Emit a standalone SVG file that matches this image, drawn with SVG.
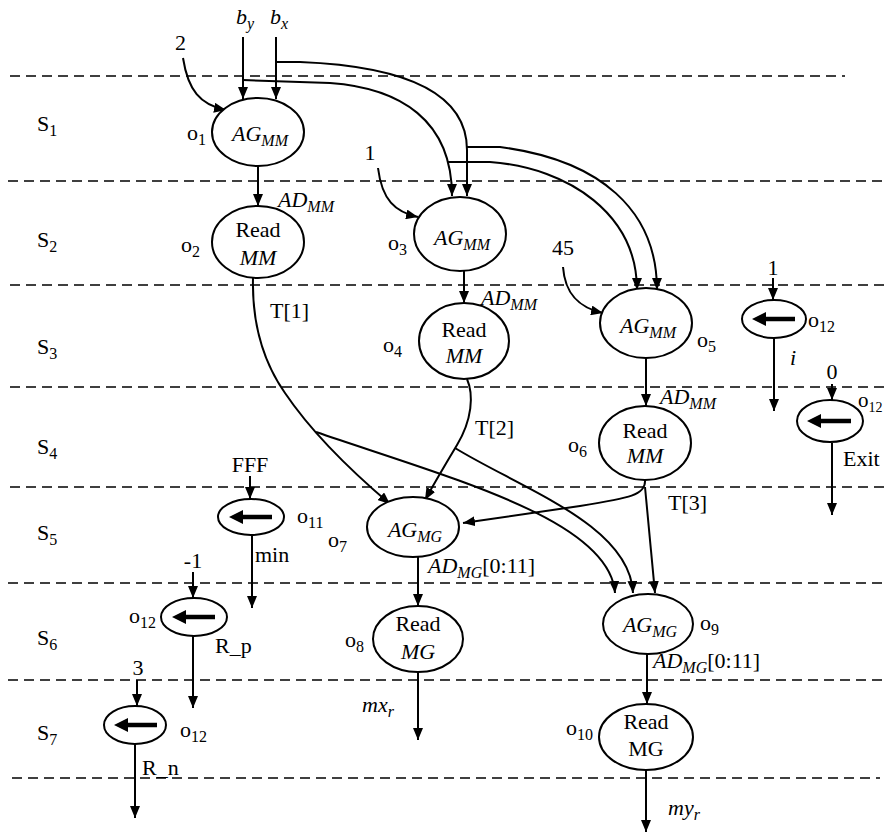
<svg xmlns="http://www.w3.org/2000/svg" width="885" height="838" viewBox="0 0 885 838">
<defs>
<marker id="ah" markerUnits="userSpaceOnUse" markerWidth="12" markerHeight="10" refX="12" refY="5" orient="auto">
<path d="M0,0 L12,5 L0,10 z" fill="#000"/>
</marker>
<style>
text{font-family:"Liberation Serif","Times New Roman",serif;font-size:22px;fill:#000}
.i{font-style:italic}
.s{font-size:16px}
.dash{stroke:#000;stroke-width:1.6;stroke-dasharray:10 6;fill:none}
.e{fill:#fff;stroke:#000;stroke-width:2}
.c{fill:none;stroke:#000;stroke-width:2}
.a{marker-end:url(#ah)}
.ta{stroke:#000;stroke-width:4.5;fill:none}
.mid{text-anchor:middle}
</style>
</defs>
<rect width="885" height="838" fill="#fff"/>
<g id="stages">
<line class="dash" x1="10" y1="76" x2="845" y2="76"/>
<line class="dash" x1="8" y1="181" x2="885" y2="181"/>
<line class="dash" x1="10" y1="285" x2="885" y2="285"/>
<line class="dash" x1="10" y1="387" x2="885" y2="387"/>
<line class="dash" x1="10" y1="487" x2="885" y2="487"/>
<line class="dash" x1="8" y1="583" x2="885" y2="583"/>
<line class="dash" x1="8" y1="680" x2="885" y2="680"/>
<line class="dash" x1="12" y1="778" x2="880" y2="778"/>
<text x="37" y="131">S<tspan class="s" dy="5">1</tspan></text>
<text x="37" y="247">S<tspan class="s" dy="5">2</tspan></text>
<text x="37" y="354">S<tspan class="s" dy="5">3</tspan></text>
<text x="37" y="454">S<tspan class="s" dy="5">4</tspan></text>
<text x="37" y="540">S<tspan class="s" dy="5">5</tspan></text>
<text x="37" y="645">S<tspan class="s" dy="5">6</tspan></text>
<text x="37" y="740">S<tspan class="s" dy="5">7</tspan></text>
</g>
<g id="connectors">
<path class="c a" d="M243,37 L243,99"/>
<path class="c a" d="M276,37 L276,99"/>
<path class="c a" d="M183,58 C188,90 200,105 226,110"/>
<path class="c a" d="M276,62 L300,62 C400,66 467,90 467,150 L467,196"/>
<path class="c a" d="M243,80 L330,83 C400,88 452,120 452,196"/>
<path class="c a" d="M447,162 L490,162 C570,168 637,215 637,290"/>
<path class="c a" d="M467,147 L500,147 C600,160 657,210 657,290"/>
<path class="c a" d="M378,168 C382,200 395,212 418,217"/>
<path class="c a" d="M563,267 C565,295 580,308 603,313"/>
<path class="c a" d="M258,166 L258,206"/>
<path class="c a" d="M464,271 L464,303"/>
<path class="c a" d="M646,358 L646,406"/>
<path class="c a" d="M253,278 C252,320 262,360 285,393 C310,430 350,470 390,504"/>
<path class="c a" d="M467,379 C474,395 472,420 457,445 C445,465 435,482 425,500"/>
<path class="c a" d="M316,432 C450,478 610,520 615,593"/>
<path class="c a" d="M455,448 C520,488 630,525 633,593"/>
<path class="c a" d="M645,480 C646,495 630,498 580,506 L463,523"/>
<path class="c a" d="M645,487 L655,593"/>
<path class="c a" d="M418,557 L418,606"/>
<path class="c a" d="M418,672 L418,740"/>
<path class="c a" d="M647,654 L647,704"/>
<path class="c a" d="M646,770 L646,832"/>
<path class="c a" d="M773,278 L773,300"/>
<path class="c a" d="M774,338 L774,411"/>
<path class="c a" d="M832,384 L832,400"/>
<path class="c a" d="M832,443 L832,515"/>
<path class="c a" d="M250,476 L250,499"/>
<path class="c a" d="M252,535 L252,608"/>
<path class="c a" d="M193,572 L193,598"/>
<path class="c a" d="M193,636 L193,708"/>
<path class="c a" d="M137,680 L137,706"/>
<path class="c a" d="M135,744 L135,818"/>
</g>
<g id="inputs">
<text x="236" y="24" class="i">b<tspan class="s" dy="5">y</tspan></text>
<text x="270" y="24" class="i">b<tspan class="s" dy="5">x</tspan></text>
<text x="175" y="50">2</text>
<text x="370" y="160" class="mid">1</text>
<text x="563" y="255" class="mid">45</text>
<text x="773" y="275" class="mid">1</text>
<text x="832" y="379" class="mid">0</text>
<text x="250" y="472" class="mid">FFF</text>
<text x="193" y="568" class="mid">-1</text>
<text x="138" y="675" class="mid">3</text>
</g>
<g id="edge-labels">
<text x="278" y="207" class="i">AD<tspan class="s" dy="5">MM</tspan></text>
<text x="481" y="305" class="i">AD<tspan class="s" dy="5">MM</tspan></text>
<text x="660" y="404" class="i">AD<tspan class="s" dy="5">MM</tspan></text>
<text x="428" y="573"><tspan class="i">AD</tspan><tspan class="s i" dy="5">MG</tspan><tspan dy="-5">[0:11]</tspan></text>
<text x="653" y="668"><tspan class="i">AD</tspan><tspan class="s i" dy="5">MG</tspan><tspan dy="-5">[0:11]</tspan></text>
<text x="270" y="318">T[1]</text>
<text x="475" y="435">T[2]</text>
<text x="668" y="510">T[3]</text>
<text x="362" y="712" class="i">mx<tspan class="s" dy="5">r</tspan></text>
<text x="668" y="815" class="i">my<tspan class="s" dy="5">r</tspan></text>
<text x="790" y="365" class="i">i</text>
<text x="843" y="466">Exit</text>
<text x="255" y="562">min</text>
<text x="215" y="653">R_p</text>
<text x="142" y="775">R_n</text>
</g>
<g id="o1">
<ellipse class="e" cx="258" cy="132" rx="46" ry="34"/>
<text x="260" y="141" class="i mid">AG<tspan class="s" dy="5">MM</tspan></text>
<text x="187" y="140">o<tspan class="s" dy="5">1</tspan></text>
</g>
<g id="o2">
<ellipse class="e" cx="258" cy="242" rx="46" ry="36"/>
<text x="258" y="237" class="mid">Read</text>
<text x="258" y="265" class="mid i">MM</text>
<text x="181" y="252">o<tspan class="s" dy="5">2</tspan></text>
</g>
<g id="o3">
<ellipse class="e" cx="460" cy="234" rx="46" ry="37"/>
<text x="462" y="245" class="i mid">AG<tspan class="s" dy="5">MM</tspan></text>
<text x="388" y="250">o<tspan class="s" dy="5">3</tspan></text>
</g>
<g id="o4">
<ellipse class="e" cx="464" cy="341" rx="45" ry="38"/>
<text x="464" y="337" class="mid">Read</text>
<text x="464" y="363" class="mid i">MM</text>
<text x="383" y="352">o<tspan class="s" dy="5">4</tspan></text>
</g>
<g id="o5">
<ellipse class="e" cx="646" cy="323" rx="46" ry="35"/>
<text x="648" y="333" class="i mid">AG<tspan class="s" dy="5">MM</tspan></text>
<text x="697" y="347">o<tspan class="s" dy="5">5</tspan></text>
</g>
<g id="o6">
<ellipse class="e" cx="645" cy="443" rx="46" ry="37"/>
<text x="645" y="438" class="mid">Read</text>
<text x="645" y="463" class="mid i">MM</text>
<text x="568" y="452">o<tspan class="s" dy="5">6</tspan></text>
</g>
<g id="o7">
<ellipse class="e" cx="413" cy="527" rx="46" ry="30"/>
<text x="415" y="537" class="i mid">AG<tspan class="s" dy="5">MG</tspan></text>
<text x="328" y="547">o<tspan class="s" dy="5">7</tspan></text>
</g>
<g id="o8">
<ellipse class="e" cx="418" cy="639" rx="45" ry="33"/>
<text x="418" y="631" class="mid">Read</text>
<text x="418" y="659" class="mid i">MG</text>
<text x="345" y="647">o<tspan class="s" dy="5">8</tspan></text>
</g>
<g id="o9">
<ellipse class="e" cx="648" cy="624" rx="45" ry="30"/>
<text x="650" y="632" class="i mid">AG<tspan class="s" dy="5">MG</tspan></text>
<text x="700" y="630">o<tspan class="s" dy="5">9</tspan></text>
</g>
<g id="o10">
<ellipse class="e" cx="646" cy="737" rx="47" ry="33"/>
<text x="646" y="729" class="mid">Read</text>
<text x="646" y="756" class="mid">MG</text>
<text x="566" y="735">o<tspan class="s" dy="5">10</tspan></text>
</g>
<g id="o11">
<ellipse class="e" cx="251" cy="517" rx="33" ry="18"/>
<line class="ta" x1="272" y1="517" x2="242" y2="517"/>
<path d="M229,517 L243,510 L243,524 z"/>
<text x="297" y="523">o<tspan class="s" dy="5">11</tspan></text>
</g>
<g id="o12-i">
<ellipse class="e" cx="774" cy="319" rx="32" ry="19"/>
<line class="ta" x1="795" y1="319" x2="765" y2="319"/>
<path d="M752,319 L766,312 L766,326 z"/>
<text x="808" y="327">o<tspan class="s" dy="5">12</tspan></text>
</g>
<g id="o12-exit">
<ellipse class="e" cx="830" cy="421" rx="33" ry="21"/>
<line class="ta" x1="851" y1="421" x2="820" y2="421"/>
<path d="M807,421 L821,414 L821,428 z"/>
<text x="858" y="407" style="font-size:21px">o<tspan style="font-size:14px" dy="5">12</tspan></text>
</g>
<g id="o12-rp">
<ellipse class="e" cx="194" cy="617" rx="33" ry="19"/>
<line class="ta" x1="215" y1="617" x2="185" y2="617"/>
<path d="M172,617 L186,610 L186,624 z"/>
<text x="129" y="623">o<tspan class="s" dy="5">12</tspan></text>
</g>
<g id="o12-rn">
<ellipse class="e" cx="135" cy="725" rx="31" ry="19"/>
<line class="ta" x1="157" y1="725" x2="127" y2="725"/>
<path d="M114,725 L128,718 L128,732 z"/>
<text x="180" y="737">o<tspan class="s" dy="5">12</tspan></text>
</g>
</svg>
